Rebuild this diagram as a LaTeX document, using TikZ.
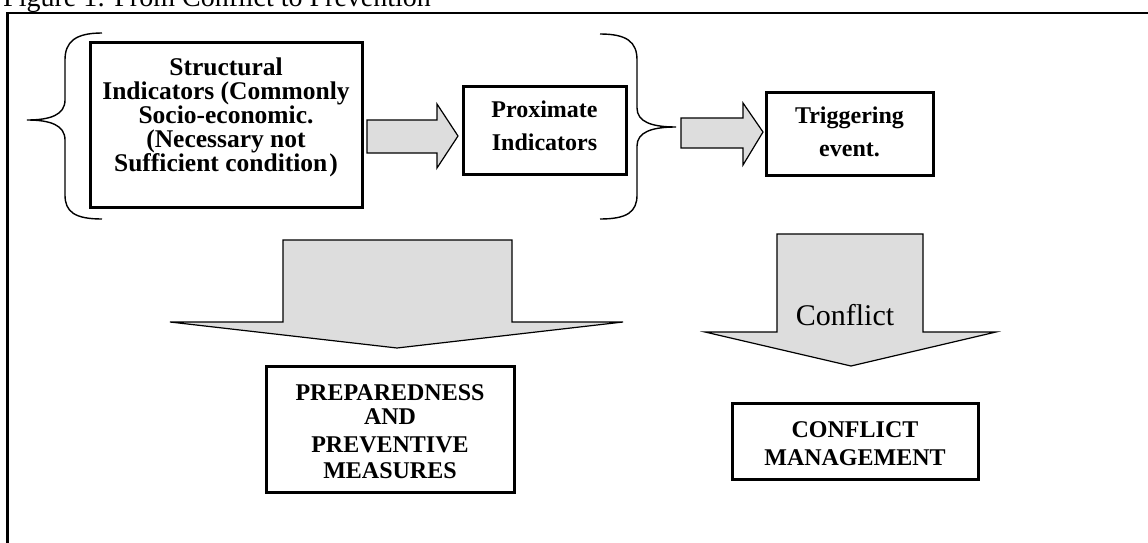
\documentclass[tikz,border=0pt]{standalone}
\usepackage{fontspec}
\setmainfont{Liberation Serif}
\definecolor{arrowgray}{RGB}{221,221,221}
\begin{document}
\begin{tikzpicture}[x=1pt,y=-1pt,
  box/.style={draw, line width=3pt, inner sep=0pt},
  boxtext/.style={align=center, inner sep=0pt, anchor=north, font=\bfseries\fontsize{24}{26}\selectfont},
  brace/.style={line width=1.4pt},
  blockarrow/.style={draw, line width=1.2pt, fill=arrowgray, line join=miter},
]
\useasboundingbox (0,0) rectangle (1148,543);
\begin{scope}
\clip (0,0) rectangle (1148,543);
\draw[line width=2.2pt] (7.5,13) rectangle (1175,580);
\node[anchor=base west, inner sep=0pt, font=\fontsize{28}{30}\selectfont] (title) at (3,7) {Figure 1: From Conflict to Prevention};
\end{scope}

% boxes
\node[box, minimum width=272, minimum height=164] (struct) at (226,125) {};
\node[box, minimum width=163, minimum height=88] (prox) at (544.5,130) {};
\node[box, minimum width=167, minimum height=83] (trig) at (849.5,133.5) {};
\node[box, minimum width=248, minimum height=126] (prep) at (390,429) {};
\node[box, minimum width=246, minimum height=76] (mgmt) at (855,441) {};

% texts
\node[boxtext, font=\bfseries\fontsize{25.5}{24}\selectfont] (structtext) at (226,57.5) {Structural\\ Indicators (Commonly\\ Socio-economic.\\ (Necessary not\\ Sufficient condition\kern2pt)};
\node[boxtext, font=\bfseries\fontsize{24}{33}\selectfont] (proxtext) at (544.5,101) {Proximate\\ Indicators};
\node[boxtext, font=\bfseries\fontsize{24}{33}\selectfont] (trigtext) at (849.5,107) {Triggering\\ event.};
\node[boxtext] (preptext) at (390,384.5) {PREPAREDNESS\\[-2pt] AND\\[2pt] PREVENTIVE\\ MEASURES};
\node[boxtext, font=\bfseries\fontsize{24}{28}\selectfont] (mgmttext) at (855,421.5) {CONFLICT\\ MANAGEMENT};

% braces
\draw[brace] (102,33) .. controls (75,33) and (65,42) .. (65,60)
  -- (65,100) .. controls (65,115) and (50,120) .. (27,120)
  .. controls (50,120) and (65,125) .. (65,140)
  -- (65,195) .. controls (65,212) and (75,219) .. (102,219);
\draw[brace] (600,34) .. controls (627,34) and (637,42) .. (637,60)
  -- (637,108) .. controls (637,122) and (652,127) .. (676,127)
  .. controls (652,127) and (637,132) .. (637,146)
  -- (637,195) .. controls (637,212) and (627,219) .. (600,219);

% horizontal block arrows
\draw[blockarrow] (367,120) -- (437,120) -- (437,104) -- (458,136) -- (437,168) -- (437,153) -- (367,153) -- cycle;
\draw[blockarrow] (681,118) -- (743,118) -- (743,103) -- (763,132) -- (743,165) -- (743,148) -- (681,148) -- cycle;

% downward block arrows
\draw[blockarrow] (283,240) -- (512,240) -- (512,322) -- (623,322) -- (397,348) -- (170,322) -- (283,322) -- cycle;
\draw[blockarrow] (777,234) -- (923,234) -- (923,332) -- (996,332) -- (851,366) -- (705,332) -- (777,332) -- cycle;
\node[anchor=base, inner sep=0pt, font=\fontsize{30}{32}\selectfont] (conflict) at (845,325) {Conflict};
\end{tikzpicture}
\end{document}
